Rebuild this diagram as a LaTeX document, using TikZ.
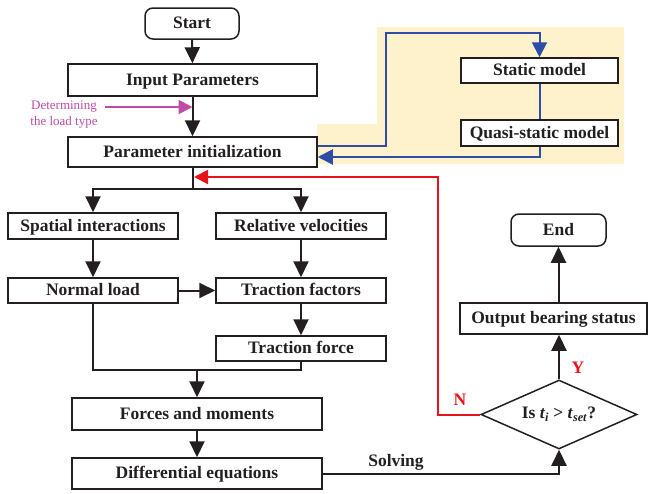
\documentclass[tikz,border=0pt]{standalone}
\usepackage{fontspec}
\setmainfont{Liberation Serif}
\usetikzlibrary{arrows.meta,shapes.geometric}
\definecolor{ink}{RGB}{35,31,32}
\definecolor{cream}{RGB}{253,242,204}
\definecolor{bl}{RGB}{46,77,167}
\definecolor{rd}{RGB}{232,20,27}
\definecolor{pk}{RGB}{188,76,166}
\tikzset{
  box/.style={draw=ink,line width=1.5pt,rectangle,inner sep=0pt,text height=11.5pt,text depth=1pt,font=\fontsize{17.5}{19}\selectfont\bfseries,text=ink},
  term/.style={box,rounded corners=8pt},
  arr/.style={draw=ink,line width=2pt,-{Triangle[length=16pt,width=15pt]}},
  ln/.style={draw=ink,line width=2pt},
  barr/.style={draw=bl,line width=2pt,-{Triangle[length=15pt,width=15pt]}},
  bln/.style={draw=bl,line width=2pt},
  rarr/.style={draw=rd,line width=2pt,-{Triangle[length=14pt,width=14pt]}},
  parr/.style={draw=pk,line width=2pt,-{Triangle[length=14pt,width=14pt]}},
  lbl/.style={font=\fontsize{17.5}{19}\selectfont\bfseries,inner sep=0pt}
}
\begin{document}
\begin{tikzpicture}[x=1pt,y=-1pt]
\useasboundingbox (0,0) rectangle (650,493);
% yellow background
\fill[cream] (377,27) -- (624,27) -- (624,164) -- (317,164) -- (317,124) -- (377,124) -- cycle;
% nodes
\node[term,minimum width=94pt,minimum height=31pt] (start) at (192,23.5) {Start};
\node[box,minimum width=249pt,minimum height=32pt] (inp) at (192.5,80) {Input Parameters};
\node[box,minimum width=249pt,minimum height=30pt] (pinit) at (192.5,152) {Parameter initialization};
\node[box,fill=white,minimum width=157pt,minimum height=25pt] (stat) at (539.5,70.5) {Static model};
\node[box,fill=white,minimum width=157pt,minimum height=26pt] (quasi) at (539.5,133) {Quasi-static model};
\node[box,minimum width=170pt,minimum height=26pt] (spat) at (93,226) {Spatial interactions};
\node[box,minimum width=170pt,minimum height=26pt] (relv) at (301,226) {Relative velocities};
\node[box,minimum width=170pt,minimum height=25pt] (nload) at (93,290.5) {Normal load};
\node[box,minimum width=170pt,minimum height=25pt] (tfac) at (301,290.5) {Traction factors};
\node[box,minimum width=170pt,minimum height=25pt] (tforce) at (301,348.5) {Traction force};
\node[box,minimum width=250pt,minimum height=32pt] (fm) at (197,414) {Forces and moments};
\node[box,minimum width=250pt,minimum height=31pt] (de) at (197,473.5) {Differential equations};
\node[box,diamond,aspect=2.26,text height=,text depth=,minimum width=156pt,minimum height=69pt] (dia) at (559,414.5) {Is \textit{t}\textsubscript{\textit{i}} > \textit{t}\textsubscript{\textit{set}}?};
\node[box,minimum width=187pt,minimum height=31pt] (outb) at (553.5,318.5) {Output bearing status};
\node[term,minimum width=95pt,minimum height=32pt] (endn) at (558.5,230) {End};
% labels
\node[font=\fontsize{13}{16}\selectfont,text=pk,align=center,inner sep=0pt] (det) at (64,115) {Determining\\the load type};
\node[lbl,text=ink] (solv) at (396,462) {Solving};
\node[lbl,text=rd] (ylab) at (578,368) {Y};
\node[lbl,text=rd] (nlab) at (460,400) {N};
% coordinates
\coordinate (pk0) at (105,107);
\coordinate (split) at (192.5,189);
\coordinate (merge) at (197,370);
\coordinate (b1) at (386,33);
\coordinate (rc) at (438,177);
% connectors
\draw[arr] (start) -- (inp);
\draw[arr] (inp) -- (pinit);
\draw[parr] (pk0) -- (pk0 -| inp.south);
\draw[ln] (pinit.south) -- (split);
\draw[arr] (split) -| (spat.north);
\draw[arr] (split) -| (relv.north);
\draw[arr] (spat) -- (nload);
\draw[arr] (relv) -- (tfac);
\draw[arr] (nload) -- (tfac);
\draw[arr] (tfac) -- (tforce);
\draw[ln] (nload.south) |- (merge) -| (tforce.south);
\draw[arr] (merge) -- (fm.north);
\draw[arr] (fm) -- (de);
\draw[arr] (de.east) -| (dia.south);
\draw[arr] (dia.north) -- (dia.north |- outb.south);
\draw[arr] (endn.south |- outb.north) -- (endn.south);
\draw[rarr,shorten >=1.5pt] (dia.west) -| (rc) -- (rc -| pinit.south);
\draw[barr] ([yshift=6pt]pinit.east) -| (b1) -| (stat.north);
\draw[bln] (stat) -- (quasi);
\draw[barr] (quasi.south) |- ([yshift=-5pt]pinit.east);
\end{tikzpicture}
\end{document}
